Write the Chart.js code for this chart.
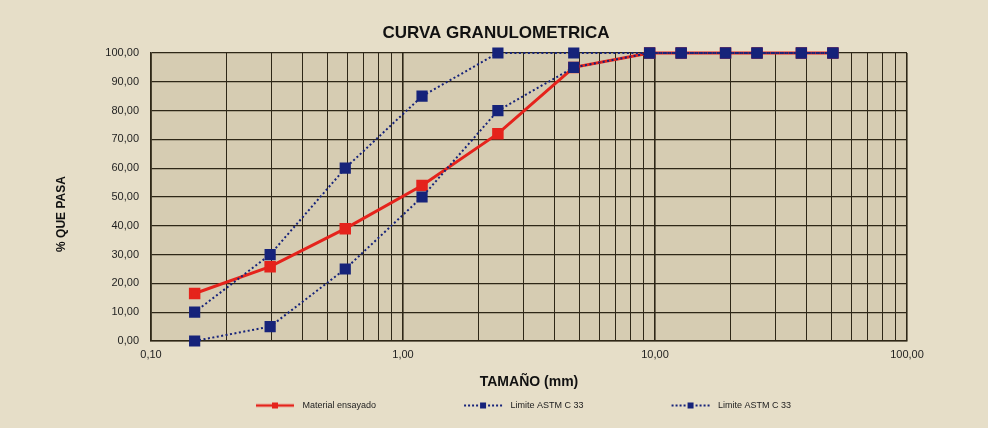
<!DOCTYPE html>
<html lang="es">
<head>
  <meta charset="UTF-8">
  <title>Curva granulometrica</title>
  <script src="https://cdn.jsdelivr.net/npm/chart.js"></script>
  <style>
    html, body {
      margin: 0;
      padding: 0;
      background: #e6dec8;
    }
  </style>
</head>
<body>
  <canvas id="curva" width="988" height="428"></canvas>

  <script>
    // abertura de tamices (mm) y % que pasa
    const tamices = [0.149, 0.297, 0.59, 1.19, 2.38, 4.76, 9.52, 12.7, 19.05, 25.4, 38.1, 50.8];
    const material = [16.5, 25.8, 39, 54, 72, 95, 100, 100, 100, 100, 100, 100];
    const limiteSup = [10, 30, 60, 85, 100, 100, 100, 100, 100, 100, 100, 100];
    const limiteInf = [0, 5, 25, 50, 80, 95, 100, 100, 100, 100, 100, 100];

    const decadas = [0.1, 1, 10, 100];
    const divisiones = [1, 2, 3, 4, 5, 6, 7, 8, 9];

    const titulo = "CURVA GRANULOMETRICA";
    const tituloX = "TAMAÑO (mm)";
    const tituloY = "% QUE PASA";
    const nombres = ["Material ensayado", "Limite ASTM C 33", "Limite ASTM C 33"];

    const ROJO = '#e5231c';
    const AZUL = '#16237a';
    const ANCHO_ICONO = 122;

    // lineas verticales del papel logaritmico
    const xTicks = [];
    decadas.slice(0, -1).forEach(d => divisiones.forEach(n => xTicks.push(+(d * n).toPrecision(3))));
    xTicks.push(decadas[decadas.length - 1]);

    const esDecada = v => Math.abs(Math.log10(v) - Math.round(Math.log10(v))) < 1e-6;
    const coma = v => v.toFixed(2).replace('.', ',');
    const puntos = serie => tamices.map((t, i) => ({ x: t, y: serie[i] }));

    function iconoLeyenda(color, dash) {
      const c = document.createElement('canvas');
      c.width = ANCHO_ICONO;
      c.height = 12;
      const g = c.getContext('2d');
      g.strokeStyle = color;
      g.lineWidth = dash ? 2 : 2.5;
      g.setLineDash(dash || []);
      g.beginPath();
      g.moveTo(c.width - 42, 6);
      g.lineTo(c.width - 4, 6);
      g.stroke();
      g.fillStyle = color;
      g.fillRect(c.width - 26, 3, 6, 6);
      return c;
    }
    const iconos = [iconoLeyenda(ROJO), iconoLeyenda(AZUL, [2, 2]), iconoLeyenda(AZUL, [2, 2])];

    const papel = {
      id: 'papel',
      beforeDraw(chart) {
        const { ctx, chartArea: a } = chart;
        ctx.save();
        ctx.fillStyle = '#e6dec8';
        ctx.fillRect(0, 0, chart.width, chart.height);
        ctx.fillStyle = '#d6ccb2';
        ctx.fillRect(a.left, a.top, a.right - a.left, a.bottom - a.top);
        ctx.restore();
      },
      afterDraw(chart) {
        const ctx = chart.ctx;
        ctx.save();
        ctx.fillStyle = '#111';
        ctx.textAlign = 'center';
        ctx.textBaseline = 'middle';
        ctx.font = 'bold 17px "Liberation Sans", Arial, sans-serif';
        ctx.fillText(titulo, 496, 33);
        ctx.translate(62, 214);
        ctx.rotate(-Math.PI / 2);
        ctx.font = 'bold 12px "Liberation Sans", Arial, sans-serif';
        ctx.fillText(tituloY, 0, 0);
        ctx.restore();
      }
    };

    Chart.defaults.font.family = '"Liberation Sans", Arial, sans-serif';
    Chart.defaults.color = '#1f1f1f';

    new Chart(document.getElementById('curva'), {
      type: 'line',
      data: {
        datasets: [
          {
            label: nombres[0],
            data: puntos(material),
            borderColor: ROJO,
            backgroundColor: ROJO,
            borderWidth: 3,
            pointStyle: 'rect',
            pointRadius: 6,
            clip: false,
            order: 3
          },
          {
            label: nombres[1],
            data: puntos(limiteSup),
            borderColor: AZUL,
            backgroundColor: AZUL,
            borderWidth: 2,
            borderDash: [2, 2.5],
            pointStyle: 'rect',
            pointRadius: 6.5,
            clip: false,
            order: 1
          },
          {
            label: nombres[2],
            data: puntos(limiteInf),
            borderColor: AZUL,
            backgroundColor: AZUL,
            borderWidth: 2,
            borderDash: [2, 2.5],
            pointStyle: 'rect',
            pointRadius: 6.5,
            clip: false,
            order: 2
          }
        ]
      },
      options: {
        responsive: false,
        animation: false,
        layout: {
          padding: { left: 60, right: 81, top: 53, bottom: 8 }
        },
        plugins: {
          legend: {
            position: 'bottom',
            labels: {
              usePointStyle: true,
              pointStyleWidth: ANCHO_ICONO,
              padding: 8,
              color: '#222',
              font: { size: 9 },
              generateLabels: chart => Chart.defaults.plugins.legend.labels.generateLabels(chart)
                .sort((a, b) => a.datasetIndex - b.datasetIndex)
                .map(item => Object.assign(item, { pointStyle: iconos[item.datasetIndex] }))
            }
          },
          tooltip: { enabled: false }
        },
        scales: {
          x: {
            type: 'logarithmic',
            min: 0.1,
            max: 100,
            afterBuildTicks: s => { s.ticks = xTicks.map(v => ({ value: v, major: esDecada(v) })); },
            afterFit: s => { s.height = 52; },
            ticks: {
              autoSkip: false,
              maxRotation: 0,
              padding: 7,
              font: { size: 11 },
              callback: v => esDecada(v) ? coma(v) : ''
            },
            grid: {
              color: '#2e2717',
              lineWidth: c => c.tick && esDecada(c.tick.value) ? 1.6 : 1,
              drawTicks: false
            },
            border: { color: '#2e2717', width: 1.6 },
            title: {
              display: true,
              text: tituloX,
              color: '#111',
              font: { size: 14, weight: 'bold' },
              padding: { top: 0, bottom: 2 }
            }
          },
          y: {
            min: 0,
            max: 100,
            afterFit: s => { s.width = 91; },
            ticks: {
              stepSize: 10,
              padding: 12,
              font: { size: 11 },
              callback: v => coma(v)
            },
            grid: {
              color: '#2e2717',
              lineWidth: 1.3,
              drawTicks: false
            },
            border: { color: '#2e2717', width: 1.6 }
          }
        }
      },
      plugins: [papel]
    });
  </script>
</body>
</html>
